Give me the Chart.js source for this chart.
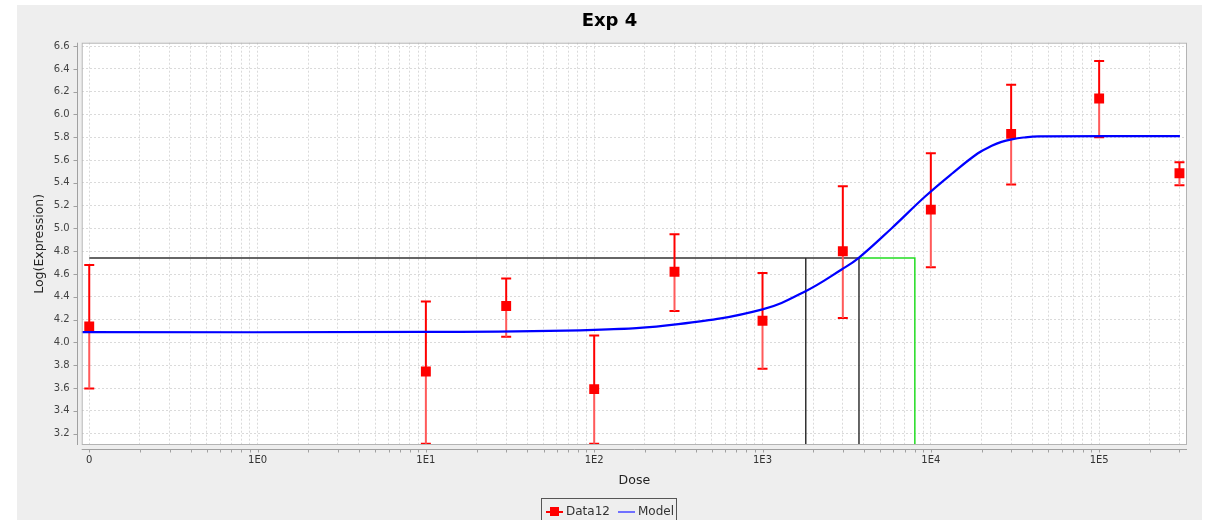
<!DOCTYPE html>
<html>
<head>
<meta charset="UTF-8">
<title>Exp 4</title>
<script src="https://cdn.jsdelivr.net/npm/chart.js"></script>
<style>
body{margin:0;background:#fff;}
#wrap{position:relative;width:1206px;height:520px;overflow:hidden;}
#title{position:absolute;left:17px;width:1185px;top:9px;line-height:22px;text-align:center;font:bold 18px "DejaVu Sans",sans-serif;color:#000;}
#legend{position:absolute;left:541px;top:498px;width:134px;height:30px;border:1px solid #555;font:12px "DejaVu Sans",sans-serif;color:#333;}
#legend span{position:absolute;}
.txt{top:5px;line-height:15px;}
</style>
</head>
<body>
<div id="wrap">
	<canvas id="myChart" width="1206" height="520"></canvas>
	<div id="title">Exp 4</div>
	<div id="legend">
		<span style="left:4px;top:12px;width:17px;height:2px;background:#f00"></span>
		<span style="left:8px;top:8px;width:9px;height:9px;background:#f00"></span>
		<span class="txt" style="left:24px">Data12</span>
		<span style="left:76px;top:12px;width:17px;height:1.5px;background:#7070ff"></span>
		<span class="txt" style="left:96px">Model</span>
	</div>
</div>
<script>
// measured doses and Log(Expression) with error bar ends
const doses = [0, 10, 30, 100, 300, 1000, 3000, 10000, 30000, 100000, 300000];
const means = [4.14, 3.745, 4.32, 3.59, 4.62, 4.19, 4.80, 5.165, 5.83, 6.14, 5.485];
const upper = [4.68, 4.36, 4.56, 4.06, 4.95, 4.61, 5.37, 5.66, 6.26, 6.47, 5.58];
const lower = [3.595, 3.11, 4.05, 3.11, 4.275, 3.77, 4.215, 4.66, 5.385, 5.80, 5.38];

// fitted model curve
const modelDose = [0.0902, 10, 100, 316, 1000, 1803, 2951, 3715, 5834, 9247, 13335, 19055, 23010, 26300, 30200, 35500, 43650, 302000];
const modelValue = [4.09, 4.092, 4.11, 4.16, 4.29, 4.45, 4.64, 4.74, 5.0, 5.28, 5.48, 5.66, 5.725, 5.76, 5.782, 5.798, 5.808, 5.81];

// BMR / BMDL / BMD / BMDU
const bmr = 4.741;
const bmdl = 1807;
const bmd = 3742;
const bmdu = 8036;

// axes
const zeroAt = 0.1; // dose 0 is drawn at 1E-1 and labelled "0"
const xMin = 0.0902, xMax = 332600;
const yMin = 3.10, yMax = 6.63;
const yTicks = [3.2, 3.4, 3.6, 3.8, 4.0, 4.2, 4.4, 4.6, 4.8, 5.0, 5.2, 5.4, 5.6, 5.8, 6.0, 6.2, 6.4, 6.6];
const majorExp = [-1, 0, 1, 2, 3, 4, 5];
const majorLabels = ['0', '1E0', '1E1', '1E2', '1E3', '1E4', '1E5'];

function plotDose(d){ return d === 0 ? zeroAt : d; }

const gridColor = '#dadada';
const axisColor = '#a0a0a0';
const tickFont = {family: '"DejaVu Sans", sans-serif', size: 10};
const titleFont = {family: '"DejaVu Sans", sans-serif', size: 12.5};

// panel background, plot outline, offset axis lines
const panel = {
	id: 'panel',
	beforeDraw(chart){
		const {ctx, chartArea: a} = chart;
		ctx.save();
		ctx.fillStyle = '#fff';
		ctx.fillRect(0, 0, chart.width, chart.height);
		ctx.fillStyle = '#eeeeee';
		ctx.fillRect(17, 5, 1185, 515);
		ctx.fillStyle = '#fff';
		ctx.fillRect(a.left, a.top, a.right - a.left, a.bottom - a.top);
		ctx.restore();
	},
	afterDraw(chart){
		const {ctx, chartArea: a, scales: {x, y}} = chart;
		ctx.save();
		ctx.strokeStyle = '#b4b4b4';
		ctx.lineWidth = 1;
		ctx.strokeRect(a.left + 0.5, a.top + 0.5, a.right - a.left - 1, a.bottom - a.top - 1);
		ctx.strokeStyle = axisColor;
		const ax = Math.round(a.left - 4.4) + 0.5;
		const ay = Math.round(a.bottom + 4.3) + 0.5;
		ctx.beginPath();
		ctx.moveTo(ax, a.top); ctx.lineTo(ax, a.bottom);
		yTicks.forEach(v => { const py = Math.round(y.getPixelForValue(v)) + 0.5; ctx.moveTo(ax, py); ctx.lineTo(ax - 4, py); });
		ctx.moveTo(a.left, ay); ctx.lineTo(a.right, ay);
		x.ticks.forEach(t => { const px = Math.round(x.getPixelForValue(t.value)) + 0.5; ctx.moveTo(px, ay); ctx.lineTo(px, ay + 3); });
		ctx.stroke();
		ctx.restore();
	}
};

// error bars drawn just before the Data12 markers
const errorBars = {
	id: 'errorBars',
	beforeDatasetDraw(chart, args){
		if (args.index !== 0) return;
		const {ctx, chartArea: a, scales: {x, y}} = chart;
		ctx.save();
		ctx.beginPath();
		ctx.rect(a.left, a.top, a.right - a.left, a.bottom - a.top);
		ctx.clip();
		ctx.lineWidth = 2;
		doses.forEach((d, i) => {
			const px = x.getPixelForValue(plotDose(d));
			const pm = y.getPixelForValue(means[i]);
			const pu = y.getPixelForValue(upper[i]);
			const pl = y.getPixelForValue(lower[i]);
			ctx.strokeStyle = '#ff0000';
			ctx.beginPath();
			ctx.moveTo(px, pu); ctx.lineTo(px, pm);
			ctx.moveTo(px - 5, pu); ctx.lineTo(px + 5, pu);
			ctx.moveTo(px - 5, pl); ctx.lineTo(px + 5, pl);
			ctx.stroke();
			ctx.strokeStyle = '#ff5a5a';
			ctx.beginPath();
			ctx.moveTo(px, pm); ctx.lineTo(px, pl);
			ctx.stroke();
		});
		ctx.restore();
	}
};

const dataPts = doses.map((d, i) => ({x: plotDose(d), y: means[i]}));
const modelPts = modelDose.map((d, i) => ({x: d, y: modelValue[i]}));

new Chart(document.getElementById('myChart'), {
	type: 'line',
	data: {
		datasets: [{
			label: 'Data12',
			data: dataPts,
			showLine: false,
			pointStyle: 'rect',
			pointRadius: 7,
			pointBackgroundColor: '#ff0000',
			pointBorderWidth: 0,
			borderColor: '#ff0000',
			order: 2
		}, {
			label: 'Model',
			data: modelPts,
			borderColor: '#0000ff',
			borderWidth: 2.2,
			pointRadius: 0,
			tension: 0.4,
			order: 1
		}, {
			label: 'bmd',
			data: [{x: zeroAt, y: bmr}, {x: bmd, y: bmr}, {x: bmd, y: yMin}],
			borderColor: '#333333',
			borderWidth: 1.5,
			pointRadius: 0,
			order: 3
		}, {
			label: 'bmdl',
			data: [{x: bmdl, y: bmr}, {x: bmdl, y: yMin}],
			borderColor: '#333333',
			borderWidth: 1.5,
			pointRadius: 0,
			order: 3
		}, {
			label: 'bmdu',
			data: [{x: bmd, y: bmr}, {x: bmdu, y: bmr}, {x: bmdu, y: yMin}],
			borderColor: '#22dd22',
			borderWidth: 1.5,
			pointRadius: 0,
			order: 4
		}]
	},
	options: {
		responsive: false,
		animation: false,
		layout: {padding: {left: 17, right: 19, top: 42.7, bottom: 0}},
		plugins: {
			legend: {display: false},
			tooltip: {enabled: false},
			title: {display: false}
		},
		scales: {
			x: {
				type: 'logarithmic',
				min: xMin,
				max: xMax,
				bounds: 'data',
				afterBuildTicks(scale){
					const t = [];
					for (let e = -1; e <= 5; e++) {
						for (let m = 1; m <= 9; m++) {
							const v = m * Math.pow(10, e);
							if (v > xMax) break;
							const k = m === 1 ? majorExp.indexOf(e) : -1;
							t.push({value: v, txt: k >= 0 ? majorLabels[k] : ''});
						}
					}
					scale.ticks = t;
				},
				afterFit(scale){ scale.height = 75; },
				grid: {color: gridColor, drawTicks: false},
				border: {display: false, dash: [2, 2]},
				ticks: {
					autoSkip: false, maxRotation: 0, minRotation: 0, padding: 9,
					color: '#333', font: tickFont,
					callback: (v, i, ticks) => ticks[i].txt
				},
				title: {display: true, text: 'Dose', color: '#222', font: titleFont, padding: {top: 0, bottom: 31.5}}
			},
			y: {
				type: 'linear',
				min: yMin,
				max: yMax,
				bounds: 'data',
				afterBuildTicks(scale){ scale.ticks = yTicks.map(v => ({value: v})); },
				afterFit(scale){ scale.width = 64.7; },
				grid: {color: gridColor, drawTicks: false},
				border: {display: false, dash: [2, 2]},
				ticks: {padding: 12, color: '#444', font: tickFont, callback: v => v.toFixed(1)},
				title: {display: true, text: 'Log(Expression)', color: '#222', font: titleFont, padding: {top: 15.5, bottom: 0}}
			}
		}
	},
	plugins: [panel, errorBars]
});
</script>
</body>
</html>
